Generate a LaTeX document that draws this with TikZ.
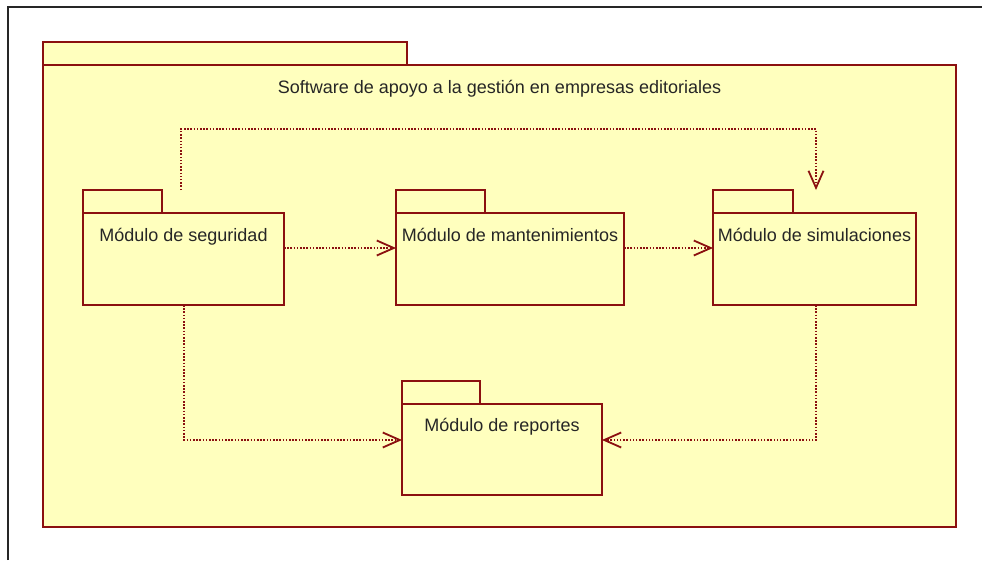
\documentclass[tikz,border=0pt]{standalone}
\usepackage{fontspec}
\setmainfont{Liberation Sans}
\usepackage{xcolor}
\usepackage{tikz}
\usetikzlibrary{arrows.meta,positioning,calc}

\definecolor{pkgred}{HTML}{8B1010}
\definecolor{pkgfill}{HTML}{FFFFBE}

\tikzset{
  pkgbody/.style={draw=pkgred,fill=pkgfill,line width=2pt,anchor=north west,inner sep=0pt,outer sep=0pt},
  pkgtab/.style={draw=pkgred,fill=pkgfill,line width=2pt,anchor=south west,inner sep=0pt,outer sep=0pt,minimum height=23},
  pkgname/.style={anchor=base,font=\fontsize{18}{20}\selectfont,text=black!85},
  dep/.style={draw=pkgred,line width=1.5pt,dash pattern=on 1.5pt off 1.7pt,
    -{Straight Barb[length=17pt,width=15pt,line width=1.8pt]}},
}

\begin{document}
\begin{tikzpicture}[x=1pt,y=-1pt]
    \useasboundingbox (0,0) rectangle (982,560);

    % Page frame
    \draw[line width=2.5pt,black!85] (8,560) -- (8,7) -- (982,7);

    % Outer package
    \node[pkgbody,minimum width=913,minimum height=462] (sys) at (43,65) {};
    \node[pkgtab,minimum width=364] (systab) at (sys.north west) {};
    \node[pkgname] (systitle) at ([yshift=-28]sys.north) {Software de apoyo a la gestión en empresas editoriales};

    % Inner packages
    \node[pkgbody,minimum width=201,minimum height=92] (seg) at (83,213) {};
    \node[pkgtab,minimum width=79] (segtab) at (seg.north west) {};
    \node[pkgbody,minimum width=228,minimum height=92] (mant) at (396,213) {};
    \node[pkgtab,minimum width=89] (manttab) at (mant.north west) {};
    \node[pkgbody,minimum width=203,minimum height=92] (sim) at (713,213) {};
    \node[pkgtab,minimum width=80] (simtab) at (sim.north west) {};
    \node[pkgbody,minimum width=200,minimum height=91] (rep) at (402,404) {};
    \node[pkgtab,minimum width=78] (reptab) at (rep.north west) {};

    % Names
    \node[pkgname] (segname) at ([yshift=-28]seg.north) {Módulo de seguridad};
    \node[pkgname] (mantname) at ([yshift=-28]mant.north) {Módulo de mantenimientos};
    \node[pkgname] (simname) at ([yshift=-28]sim.north) {Módulo de simulaciones};
    \node[pkgname] (repname) at ([yshift=-27]rep.north) {Módulo de reportes};

    % Anchor points of the dependencies
    \coordinate (segout) at ([yshift=-35]seg.north east);
    \coordinate (mantin) at ([yshift=-35]mant.north west);
    \coordinate (mantout) at ([yshift=-35]mant.north east);
    \coordinate (simin) at ([yshift=-35]sim.north west);
    \coordinate (segup) at ([xshift=98]segtab.north west);
    \coordinate (simtop) at ([xshift=103]simtab.north west);
    \coordinate (segdown) at ([xshift=101]seg.south west);
    \coordinate (simdown) at ([xshift=103]sim.south west);
    \coordinate (repleft) at ([yshift=-36]rep.north west);
    \coordinate (represent) at ([yshift=-36]rep.north east);

    % Dependencies
    \draw[dep] (segout) -- (mantin);
    \draw[dep] (mantout) -- (simin);
    \draw[dep] (segup) -- ++(0,-61) -| (simtop);
    \draw[dep] (segdown) |- (repleft);
    \draw[dep] (simdown) |- (represent);
\end{tikzpicture}
\end{document}
